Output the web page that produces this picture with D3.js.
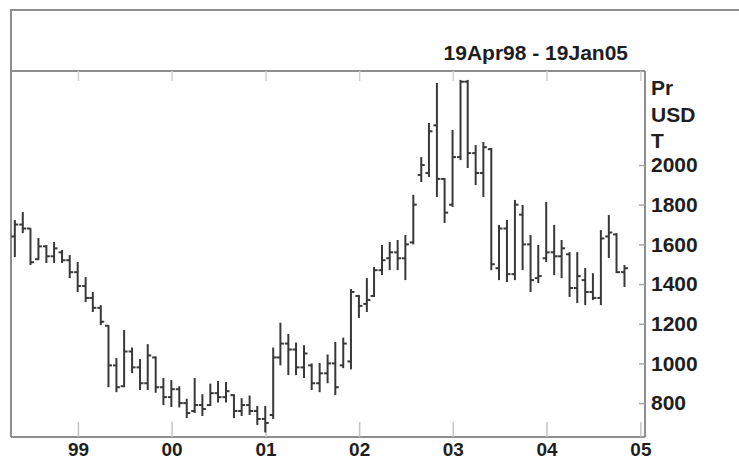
<!DOCTYPE html>
<html>
<head>
<meta charset="utf-8">
<script src="https://cdn.jsdelivr.net/npm/d3@7"></script>
<style>
  body { margin: 0; background: #fff; }
  svg { display: block; }
  .lbl { font-family: 'Liberation Sans', Arial, sans-serif; font-size: 21px; font-weight: bold; fill: #1e1e1e; }
  .xlbl { font-size: 19px; }
</style>
</head>
<body>
<div id="chart"></div>
<script>
// Monthly OHLC bars, Apr 1998 .. Oct 2004 (79 months)
const firstMonth = new Date(1998, 3, 1);
const lastMonth = new Date(2004, 9, 1);

const open = [1640,1700,1680,1525,1590,1540,1560,1520,1460,1390,
  1330,1280,1190,990,885,1060,980,900,1030,880,
  830,870,800,760,790,790,850,830,840,760,
  790,760,720,740,1030,1100,1070,980,990,900,
  950,1000,990,1010,1340,1300,1340,1470,1530,1560,
  1530,1610,1950,1960,2200,1930,1800,2040,2420,2060,
  1960,2080,1480,1680,1450,1750,1600,1430,1530,1560,
  1540,1550,1380,1420,1360,1330,1640,1650,1460];

const high = [1723,1763,1682,1632,1597,1612,1572,1546,1511,1435,
  1360,1294,1193,1027,1168,1080,1022,1097,1035,926,
  916,885,822,926,845,898,911,906,845,825,
  838,785,785,1080,1205,1148,1105,1092,1000,1002,
  1045,1108,1130,1375,1345,1430,1486,1597,1612,1622,
  1647,1850,2040,2212,2414,1934,2177,2429,2429,2101,
  2116,2086,1698,1723,1824,1799,1647,1597,1814,1698,
  1622,1561,1561,1481,1455,1672,1748,1657,1496];

const low = [1536,1657,1496,1521,1506,1506,1506,1430,1360,1309,
  1259,1193,880,855,880,951,866,866,852,790,
  780,778,724,750,735,785,803,803,724,735,
  740,690,652,720,990,941,941,926,866,855,
  900,840,976,970,1229,1259,1335,1445,1470,1470,
  1420,1600,1914,1940,1839,1708,1789,2025,1985,1899,
  1839,1470,1420,1410,1420,1470,1360,1405,1511,1445,
  1430,1335,1304,1294,1319,1294,1531,1455,1385];

const close = [1700,1680,1510,1590,1540,1580,1520,1460,1390,1330,
  1280,1210,990,880,1060,980,900,1040,880,830,
  870,800,750,790,770,850,830,860,760,790,
  760,720,700,1030,1100,1070,980,1050,900,950,
  1000,880,1100,1360,1290,1320,1470,1520,1560,1530,
  1600,1800,2000,2170,1930,1760,2040,2420,2060,1960,
  2090,1500,1680,1450,1800,1600,1420,1440,1560,1540,
  1580,1380,1440,1360,1330,1630,1660,1460,1480];

const yTicks = [800, 1000, 1200, 1400, 1600, 1800, 2000];
const unitLabels = ['Pr', 'USD', 'T'];
const yearTicks = [1999, 2000, 2001, 2002, 2003, 2004, 2005];
const title = '19Apr98 - 19Jan05';

const W = 739, H = 461;
const plot = { left: 12, right: 645, top: 71, bottom: 437 };

const svg = d3.select('#chart').append('svg')
  .attr('width', W)
  .attr('height', H);

const x = d3.scaleTime()
  .domain([new Date(1998, 3, 19), new Date(2005, 0, 19)])
  .range([plot.left, plot.right]);

const y = d3.scaleLinear()
  .domain([629, 2474])
  .range([plot.bottom, plot.top]);

// bars sit at the end of their month
const months = d3.timeMonth.range(firstMonth, d3.timeMonth.offset(lastMonth, 1));
const bars = months.map((m, i) => ({
  date: d3.timeDay.offset(d3.timeMonth.offset(m, 1), -1),
  o: open[i], h: high[i], l: low[i], c: close[i]
}));

// frame
const frame = svg.append('g').attr('stroke', '#8e8e8e').attr('stroke-width', 2).attr('fill', 'none');
frame.append('line').attr('x1', 10).attr('x2', W).attr('y1', 10).attr('y2', 10);
frame.append('line').attr('x1', 11).attr('x2', 11).attr('y1', 10).attr('y2', plot.bottom);
frame.append('line').attr('x1', 11).attr('x2', plot.right).attr('y1', plot.top).attr('y2', plot.top);
frame.append('line').attr('x1', 11).attr('x2', plot.right).attr('y1', plot.bottom).attr('y2', plot.bottom);
frame.append('line').attr('x1', plot.right).attr('x2', plot.right).attr('y1', plot.top).attr('y2', plot.bottom);

// header date range
svg.append('text')
  .attr('class', 'lbl')
  .attr('x', 628)
  .attr('y', 60)
  .attr('text-anchor', 'end')
  .text(title);

// x axis: year ticks inward, labels below
const yearDates = yearTicks.map(yr => new Date(yr, 0, 1));
const xAxis = svg.append('g')
  .attr('transform', `translate(0,${plot.bottom})`)
  .call(d3.axisBottom(x).tickValues(yearDates).tickSize(-15).tickPadding(6)
    .tickFormat(d3.timeFormat('%y')));
xAxis.select('.domain').remove();
xAxis.selectAll('line').attr('stroke', '#c4c4c4').attr('stroke-width', 1.5);
xAxis.selectAll('text').attr('class', 'lbl xlbl').attr('fill', null);

const topAxis = svg.append('g')
  .attr('transform', `translate(0,${plot.top})`)
  .call(d3.axisTop(x).tickValues(yearDates).tickSize(-10).tickFormat(''));
topAxis.select('.domain').remove();
topAxis.selectAll('line').attr('stroke', '#d0d0d0').attr('stroke-width', 1.5);

// y axis on the right: ticks inward, labels outside
const yTickG = svg.append('g')
  .attr('transform', `translate(${plot.right},0)`)
  .call(d3.axisLeft(y).tickValues(yTicks).tickSize(6).tickFormat(''));
yTickG.select('.domain').remove();
yTickG.selectAll('line').attr('stroke', '#a8a8a8').attr('stroke-width', 1.5);

const yLabelG = svg.append('g')
  .attr('transform', `translate(${plot.right},0)`)
  .call(d3.axisRight(y).tickValues(yTicks).tickSize(0).tickPadding(6).tickFormat(d3.format('d')));
yLabelG.select('.domain').remove();
yLabelG.selectAll('text').attr('class', 'lbl').attr('fill', null);

svg.selectAll('.unit')
  .data(unitLabels)
  .enter().append('text')
  .attr('class', 'lbl unit')
  .attr('x', plot.right + 6)
  .attr('y', (d, i) => 88 + i * 26.5)
  .attr('dy', '0.35em')
  .text(d => d);

// OHLC bars
const g = svg.append('g')
  .attr('stroke', '#383838')
  .attr('stroke-width', 2);

const bar = g.selectAll('.bar')
  .data(bars)
  .enter().append('g')
  .attr('class', 'bar');

bar.append('line')
  .attr('x1', d => x(d.date)).attr('x2', d => x(d.date))
  .attr('y1', d => y(d.h)).attr('y2', d => y(d.l));

bar.append('line')
  .attr('x1', d => x(d.date) - 3.5).attr('x2', d => x(d.date))
  .attr('y1', d => y(d.o)).attr('y2', d => y(d.o));

bar.append('line')
  .attr('x1', d => x(d.date)).attr('x2', d => x(d.date) + 3.5)
  .attr('y1', d => y(d.c)).attr('y2', d => y(d.c));
</script>
</body>
</html>
